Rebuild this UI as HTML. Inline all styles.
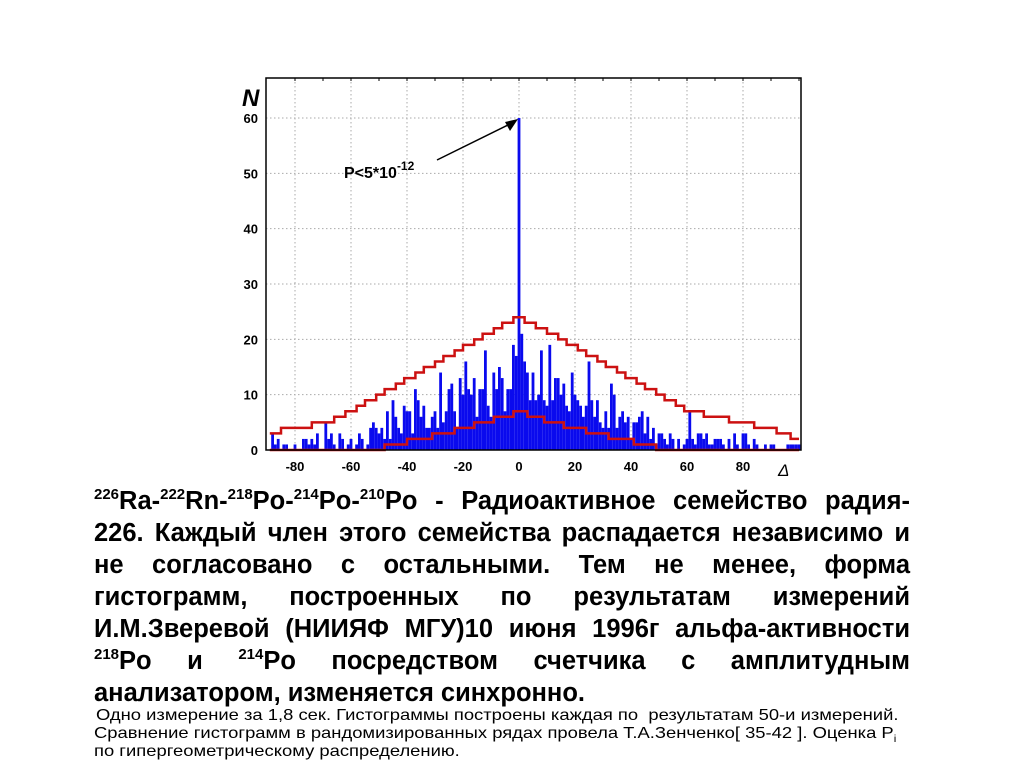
<!DOCTYPE html>
<html><head><meta charset="utf-8"><style>
body{margin:0;width:1024px;height:767px;background:#fff;overflow:hidden;position:relative;font-family:"Liberation Sans",sans-serif}
.big{position:absolute;left:94px;width:816px;font-weight:bold;font-size:25.5px;line-height:32px;text-align:justify;text-align-last:justify;white-space:nowrap;color:#000}
.big sup{font-size:15px;vertical-align:10px;line-height:0}
.sm{position:absolute;left:96px;font-size:16px;line-height:18px;color:#000;white-space:nowrap;transform-origin:0 0;transform:scaleX(1.15)}
</style></head><body>
<svg id="chart" width="1024" height="480" style="position:absolute;left:0;top:0" font-family="Liberation Sans, sans-serif"></svg>
<div class="big" style="top:485px"><sup>226</sup>Ra-<sup>222</sup>Rn-<sup>218</sup>Po-<sup>214</sup>Po-<sup>210</sup>Po - Радиоактивное семейство радия-</div>
<div class="big" style="top:517px">226. Каждый член этого семейства распадается независимо и</div>
<div class="big" style="top:549px">не согласовано с остальными. Тем не менее, форма</div>
<div class="big" style="top:581px">гистограмм, построенных по результатам измерений</div>
<div class="big" style="top:613px">И.М.Зверевой (НИИЯФ МГУ)10 июня 1996г альфа-активности</div>
<div class="big" style="top:645px"><sup>218</sup>Po и <sup>214</sup>Po посредством счетчика с амплитудным</div>
<div class="big" style="top:677px;text-align-last:left">анализатором, изменяется синхронно.</div>
<div class="sm" style="top:707px">Одно измерение за 1,8 сек. Гистограммы построены каждая по&nbsp; результатам 50-и измерений.</div>
<div class="sm" style="top:725px;left:94px">Сравнение гистограмм в рандомизированных рядах провела Т.А.Зенченко[ 35-42 ]. Оценка P<sub style="font-size:10px">i</sub></div>
<div class="sm" style="top:743px;left:94px">по гипергеометрическому распределению.</div>
<script>
const binStart = -88;
const counts = [3,1,2,0,1,1,0,0,1,0,0,2,2,1,2,1,3,0,0,5,2,3,1,0,3,2,0,1,2,0,1,3,2,0,1,4,5,4,3,4,2,7,2,9,6,4,3,8,7,7,3,11,9,6,8,4,4,6,7,4,14,5,7,11,12,7,4,13,10,16,11,10,13,6,11,11,18,8,6,14,11,15,13,7,11,11,19,17,
60,
21,16,14,9,14,9,10,18,9,8,19,9,13,13,10,12,8,7,14,10,9,8,6,8,16,9,6,9,5,4,7,4,12,10,4,6,7,5,6,2,5,5,6,7,3,6,2,4,1,3,3,2,1,3,2,0,2,0,1,2,7,2,1,3,3,2,3,1,1,2,2,2,1,0,2,0,3,1,0,3,3,1,0,2,1,0,0,1,0,1,1,0,0,0,0,1,1,1,1,1];
const upperEdges = [-89,-85,-74,-66,-62,-58,-55,-51,-48,-44,-41,-37,-34,-30,-27,-23,-20,-16,-13,-9,-6,-2,2,6,10,14,17,21,24,28,31,35,38,42,45,49,52,56,59,66,75,84,92,97,100];
const upperVals = [3,4,5,6,7,8,9,10,11,12,13,14,15,16,17,18,19,20,21,22,23,24,23,22,21,20,19,18,17,16,15,14,13,12,11,10,9,8,7,6,5,4,3,2];
const lowerEdges = [-89,-48,-40,-31,-23,-16,-9,-2,3,9,16,24,32,41,49,100];
const lowerVals = [0,1,2,3,4,5,6,7,6,5,4,3,2,1,0];
const xTicks = [-80,-60,-40,-20,0,20,40,60,80];
const yTicks = [0,10,20,30,40,50,60];

const svg = document.getElementById('chart');
const NS = 'http://www.w3.org/2000/svg';
const L=266,R=801,T=78,B=450;
const xs = v => 519 + 2.8*v;
const ys = v => 450 - 5.533*v;
function mk(tag, attrs){const e=document.createElementNS(NS,tag);for(const k in attrs)e.setAttribute(k,attrs[k]);svg.appendChild(e);return e;}

xTicks.forEach(t=>{
  const g=mk('line',{x1:xs(t),x2:xs(t),y1:T,y2:B,stroke:'#aaa','stroke-dasharray':'1.5,2.5','stroke-width':1});
  
  
  const tx=mk('text',{x:xs(t),y:471,'text-anchor':'middle','font-size':13,'font-weight':'bold'});
  tx.textContent=t;
  
  
});
yTicks.forEach(t=>{
  if(t>0){const g=mk('line',{x1:L,x2:R,y1:ys(t),y2:ys(t),stroke:'#aaa','stroke-dasharray':'1.5,2.5','stroke-width':1});
  
  }
  const tx=mk('text',{x:258,y:ys(t)+5,'text-anchor':'end','font-size':13,'font-weight':'bold'});
  tx.textContent=t;
  
  
});
counts.forEach((c,i)=>{
  if(c<=0)return;
  const v=binStart+i;
  const r=mk('rect',{x:xs(v-0.5),y:ys(c),width:2.8,height:ys(0)-ys(c),fill:'#0a0aee'});
  
  
});
function stepPath(edges,vals){let d='';for(let i=0;i<vals.length;i++){d+=(i?'L':'M')+xs(edges[i])+' '+ys(vals[i])+'L'+xs(edges[i+1])+' '+ys(vals[i]);}return d;}
const up=mk('path',{d:stepPath(upperEdges,upperVals),fill:'none',stroke:'#cc1111','stroke-width':2.5});


const lo=mk('path',{d:stepPath(lowerEdges,lowerVals),fill:'none',stroke:'#cc1111','stroke-width':2.5});


const fr=mk('rect',{x:L,y:T,width:R-L,height:B-T,fill:'none',stroke:'#000','stroke-width':1.5});


for(let v=-80;v<=100;v+=10){const t=mk('line',{x1:xs(v),x2:xs(v),y1:T,y2:T+3,stroke:'#000'});}
const nl=mk('text',{x:242,y:106,'font-size':24,'font-weight':'bold','font-style':'italic'});
nl.textContent='N';


const dl=mk('text',{x:778,y:476,'font-size':17,'font-style':'italic'});
dl.textContent='Δ';


const ann=mk('text',{x:344,y:178,'font-size':16,'font-weight':'bold'});
ann.innerHTML='P&lt;5*10<tspan dy="-8" font-size="12">-12</tspan>';


const ar=mk('line',{x1:437,y1:160,x2:512,y2:123,stroke:'#000','stroke-width':1.5});


const ah=mk('path',{d:'M518 119 L505 122 L510 131 Z',fill:'#000'});


</script>
</body></html>
